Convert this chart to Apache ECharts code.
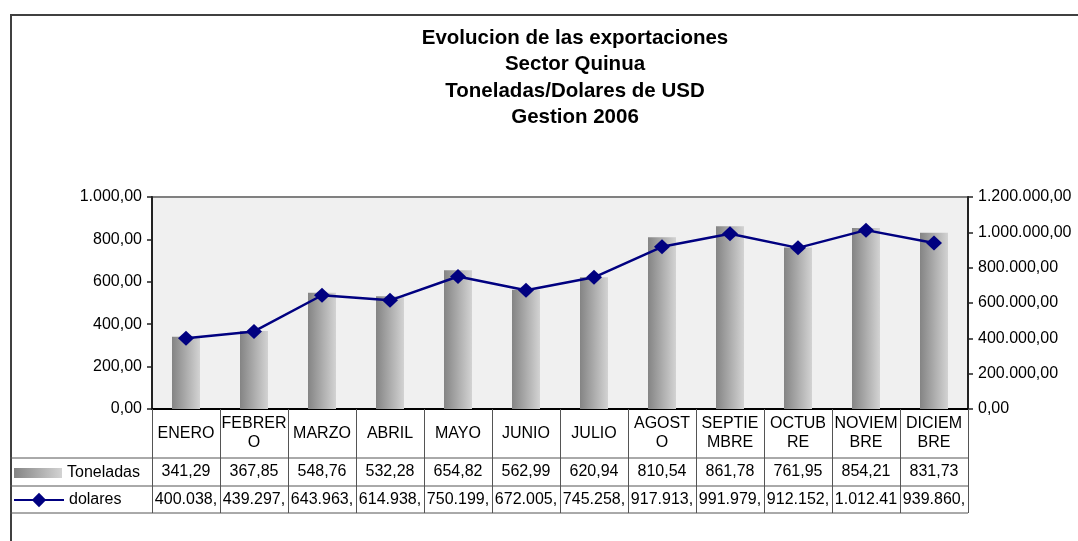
<!DOCTYPE html>
<html>
<head>
<meta charset="utf-8">
<script src="https://cdn.jsdelivr.net/npm/echarts@6/dist/echarts.min.js"></script>
<style>
html,body{margin:0;padding:0;background:#fff;}
#c{width:1078px;height:541px;}
</style>
</head>
<body>
<div id="c"></div>
<script>
const titleLines = ['Evolucion de las exportaciones', 'Sector Quinua', 'Toneladas/Dolares de USD', 'Gestion 2006'];
const months = ['ENERO', 'FEBRERO', 'MARZO', 'ABRIL', 'MAYO', 'JUNIO', 'JULIO', 'AGOSTO', 'SEPTIEMBRE', 'OCTUBRE', 'NOVIEMBRE', 'DICIEMBRE'];
const toneladas = [341.29, 367.85, 548.76, 532.28, 654.82, 562.99, 620.94, 810.54, 861.78, 761.95, 854.21, 831.73];
const dolares = [400038, 439297, 643963, 614938, 750199, 672005, 745258, 917913, 991979, 912152, 1012410, 939860];
const seriesNames = ['Toneladas', 'dolares'];

function fmtNum(v, dec) {
  const parts = Number(v).toFixed(dec).split('.');
  parts[0] = parts[0].replace(/\B(?=(\d{3})+(?!\d))/g, '.');
  return parts.join(',');
}

const FONT = "'Liberation Sans', Arial, sans-serif";
const FS = 16;
const lineCol = '#555';

// layout
const G_LEFT = 152, G_RIGHT = 968, G_TOP = 197, G_BOTTOM = 409;
const ROW1 = 49, ROW2 = 28, ROW3 = 27;

const chart = echarts.init(document.getElementById('c'), null, {renderer: 'canvas'});

function labelAxis(labels, offset, rowH) {
  return {
    type: 'category',
    gridIndex: 0,
    position: 'bottom',
    offset: offset,
    data: labels,
    boundaryGap: true,
    axisLine: {show: false, onZero: false},
    axisTick: {show: false},
    axisLabel: {
      show: true, interval: 0, margin: rowH / 2, verticalAlign: 'middle', align: 'center',
      color: '#000', fontFamily: FONT, fontSize: FS, width: 66,
      overflow: 'truncate', ellipsis: ''
    },
    splitLine: {show: false}
  };
}

function hLine(y, x1) {
  return {type: 'line', z: 100, silent: true,
    shape: {x1: x1, y1: y, x2: G_RIGHT, y2: y},
    style: {stroke: lineCol, lineWidth: 1}};
}

const option = {
  animation: false,
  backgroundColor: '#fff',
  title: {
    text: titleLines.join('\n'),
    left: 570,
    top: 20,
    textAlign: 'center',
    textStyle: {fontFamily: FONT, fontSize: 20.5, fontWeight: 'bold', color: '#000', lineHeight: 26.5}
  },
  legend: [
    {
      data: [seriesNames[0]], orient: 'vertical', left: 14, top: 465, padding: 0,
      icon: 'rect',
      itemWidth: 48, itemHeight: 10, itemGap: 5,
      textStyle: {fontFamily: FONT, fontSize: FS, color: '#000'}
    },
    {
      data: [seriesNames[1]], orient: 'vertical', left: 13, top: 492, padding: 0,
      itemWidth: 50, itemHeight: 18, itemGap: 5,
      textStyle: {fontFamily: FONT, fontSize: FS, color: '#000'}
    }
  ],
  grid: {
    left: G_LEFT, right: 1078 - G_RIGHT, top: G_TOP, bottom: 541 - G_BOTTOM,
    show: true, backgroundColor: '#f0f0f0', borderColor: '#808080', borderWidth: 2,
    containLabel: false
  },
  xAxis: [
    {
      type: 'category', gridIndex: 0, position: 'bottom', offset: 0,
      data: months, boundaryGap: true,
      axisLine: {show: true, onZero: false, lineStyle: {color: '#000', width: 2}},
      axisTick: {show: true, interval: 0, length: ROW1 + ROW2 + ROW3, inside: false, lineStyle: {color: lineCol, width: 1}},
      axisLabel: {
        show: true, interval: 0, margin: ROW1 / 2, verticalAlign: 'middle', align: 'center',
        color: '#000', fontFamily: FONT, fontSize: FS, width: 65, lineHeight: 19,
        overflow: 'breakAll'
      },
      splitLine: {show: false}
    },
    labelAxis(toneladas.map(v => fmtNum(v, 2)), ROW1, ROW2),
    labelAxis(dolares.map(v => fmtNum(v, 2)), ROW1 + ROW2, ROW3)
  ],
  yAxis: [
    {
      type: 'value', min: 0, max: 1000, interval: 200, position: 'left',
      axisLine: {show: true, lineStyle: {color: '#222', width: 2}},
      axisTick: {show: true, length: 5, lineStyle: {color: '#222', width: 1.5}},
      axisLabel: {color: '#000', fontFamily: FONT, fontSize: FS, margin: 10, formatter: v => fmtNum(v, 2)},
      splitLine: {show: false}
    },
    {
      type: 'value', min: 0, max: 1200000, interval: 200000, position: 'right',
      axisLine: {show: true, lineStyle: {color: '#222', width: 2}},
      axisTick: {show: true, length: 5, lineStyle: {color: '#222', width: 1.5}},
      axisLabel: {color: '#000', fontFamily: FONT, fontSize: FS, margin: 10, formatter: v => fmtNum(v, 2)},
      splitLine: {show: false}
    }
  ],
  series: [
    {
      name: seriesNames[0], type: 'bar', xAxisIndex: 0, yAxisIndex: 0,
      data: toneladas, barWidth: 28,
      itemStyle: {
        color: new echarts.graphic.LinearGradient(0, 0, 1, 0, [
          {offset: 0, color: '#848484'},
          {offset: 1, color: '#d3d3d3'}
        ])
      }
    },
    {
      name: seriesNames[1], type: 'line', xAxisIndex: 0, yAxisIndex: 1,
      data: dolares,
      symbol: 'diamond', symbolSize: [16, 15],
      lineStyle: {color: '#000080', width: 2.5},
      itemStyle: {color: '#000080'},
      z: 5
    }
  ],
  graphic: [
    {type: 'rect', left: 10, top: 14, z: 100, silent: true,
      shape: {x: 0, y: 0, width: 1200, height: 700},
      style: {fill: 'transparent', stroke: '#404040', lineWidth: 2}},
    hLine(G_BOTTOM + ROW1, 10),
    hLine(G_BOTTOM + ROW1 + ROW2, 10),
    hLine(G_BOTTOM + ROW1 + ROW2 + ROW3, 10)
  ]
};

chart.setOption(option);
</script>
</body>
</html>
